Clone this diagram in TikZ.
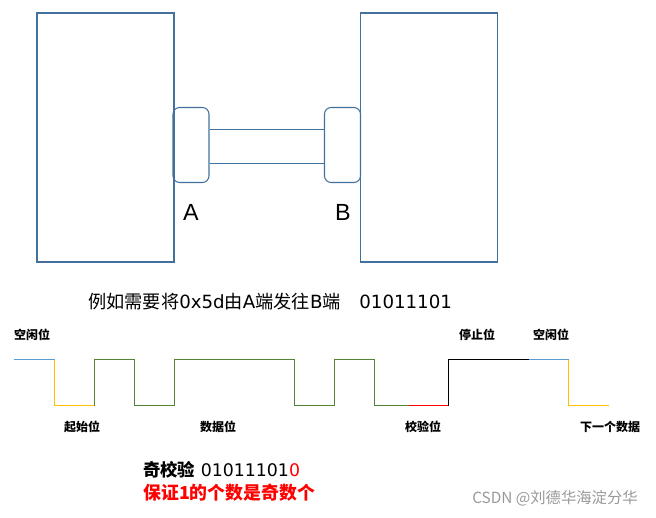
\documentclass[tikz,border=0pt]{standalone}
\usepackage{fontspec}
\setmainfont{DejaVu Sans}
\newfontfamily\cjk{Noto Sans CJK SC}
\newfontfamily\arialfont{Liberation Sans}
\usetikzlibrary{calc}
\definecolor{boxblue}{HTML}{41719C}
\definecolor{idleblue}{HTML}{5B9BD5}
\definecolor{startyellow}{HTML}{FFC000}
\definecolor{datagreen}{HTML}{548235}
\newlength{\pxu}\setlength{\pxu}{0.75pt}
\tikzset{
  bigbox/.style={draw=boxblue, line width=0.8pt, minimum width=137\pxu, minimum height=249\pxu, inner sep=0pt},
  portbox/.style={draw=boxblue, line width=0.8pt, rounded corners=5pt, minimum width=36\pxu, minimum height=75\pxu, inner sep=0pt},
  link/.style={draw=boxblue, line width=0.6pt},
  portlabel/.style={font=\arialfont\fontsize{17.5}{20}\selectfont},
  wavelabel/.style={font=\cjk\bfseries\fontsize{9}{11}\selectfont},
  wave/.style={line width=1pt},
}
\begin{document}
\begin{tikzpicture}[x=0.75pt,y=-0.75pt]
\useasboundingbox (0,0) rectangle (656,517);
% hosts
\node[bigbox] (hostA) at (105.5,137.5) {};
\node[bigbox] (hostB) at (429,137.5) {};
\node[portbox] (portA) at (191,145) {};
\node[portbox] (portB) at (342.5,145) {};
\draw[link] ($(portA.east)+(0,-16)$) -- ($(portB.west)+(0,-16)$);
\draw[link] ($(portA.east)+(0,18)$) -- ($(portB.west)+(0,18)$);
\node[portlabel] (labA) at (191,212) {A};
\node[portlabel] (labB) at (343,212) {B};
% caption
\node[anchor=base west, inner sep=0pt, font=\fontsize{13.65}{16}\selectfont] (caption) at (88,308)
  {{\cjk 例如需要将}0x5d{\cjk 由}A{\cjk 端发往}B{\cjk 端}\hspace{14pt}01011101};
% waveform
\draw[wave, idleblue] (14,359.5) -- (54.5,359.5);
\draw[wave, startyellow] (54.5,359.5) -- (54.5,405.5) -- (94.5,405.5);
\draw[wave, datagreen] (94.5,405.5) -- (94.5,359.5) -- (134.5,359.5) -- (134.5,405.5) -- (174.5,405.5)
  -- (174.5,359.5) -- (294.5,359.5) -- (294.5,405.5) -- (334.5,405.5) -- (334.5,359.5)
  -- (374.5,359.5) -- (374.5,405.5) -- (408.5,405.5);
\draw[wave, red] (408.5,405.5) -- (448.5,405.5);
\draw[wave, black] (448.5,405.5) -- (448.5,359.5) -- (529,359.5);
\draw[wave, idleblue] (529,359.5) -- (568.5,359.5);
\draw[wave, startyellow] (568.5,359.5) -- (568.5,405.5) -- (608.5,405.5);
% wave labels
\node[wavelabel] (idle1) at (32,335) {空闲位};
\node[wavelabel] (startb) at (82,427) {起始位};
\node[wavelabel] (datab) at (218,427) {数据位};
\node[wavelabel] (parity) at (423,427) {校验位};
\node[wavelabel] (stopb) at (477,335) {停止位};
\node[wavelabel] (idle2) at (551,335) {空闲位};
\node[wavelabel] (nextd) at (610,427) {下一个数据};
% parity text
\node[anchor=west, inner sep=0pt, font=\fontsize{13}{15}\selectfont] (oddline) at (143,470)
  {{\cjk\bfseries 奇校验} 01011101\textcolor{red}{0}};
\node[anchor=west, inner sep=0pt, text=red, font=\cjk\bfseries\fontsize{13.4}{15}\selectfont] (oddnote) at (143,493)
  {保证1的个数是奇数个};
% watermark
\node[text=gray!80, font=\cjk\fontsize{11.5}{13}\selectfont] (mark) at (555,498) {CSDN @刘德华海淀分华};
\end{tikzpicture}
\end{document}
